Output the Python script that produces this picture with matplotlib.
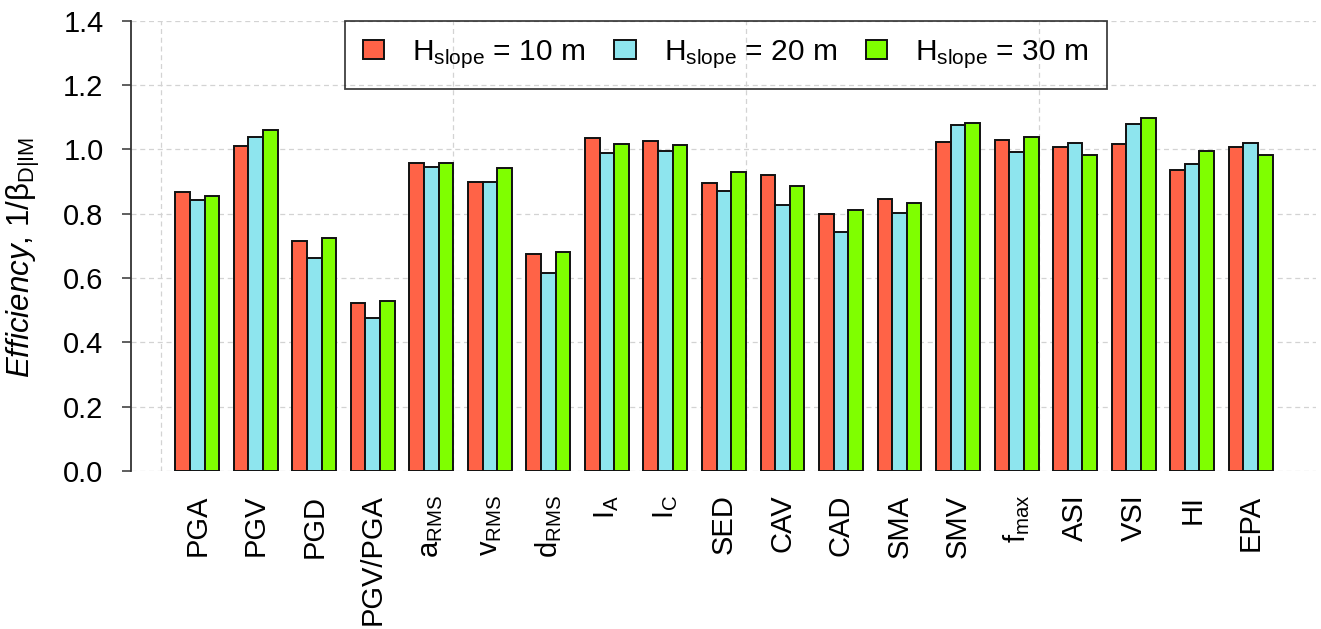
import numpy as np
import matplotlib
matplotlib.use("Agg")
import matplotlib.pyplot as plt

plt.rcParams['font.family'] = ['Liberation Sans', 'DejaVu Sans']
plt.rcParams['mathtext.fontset'] = 'custom'
plt.rcParams['mathtext.rm'] = 'Liberation Sans'
plt.rcParams['mathtext.it'] = 'Liberation Sans:italic'
plt.rcParams['mathtext.bf'] = 'Liberation Sans:bold'

# Intensity measures (x categories)
measures = ['PGA', 'PGV', 'PGD', 'PGV/PGA', r'a$_\mathregular{RMS}$', r'v$_\mathregular{RMS}$',
            r'd$_\mathregular{RMS}$', r'I$_\mathregular{A}$', r'I$_\mathregular{C}$', 'SED', 'CAV',
            'CAD', 'SMA', 'SMV', r'f$_\mathregular{max}$', 'ASI', 'VSI', 'HI', 'EPA']

# Efficiency 1/beta for each slope height
eff_10m = [0.866, 1.009, 0.715, 0.522, 0.959, 0.898, 0.675, 1.036, 1.027, 0.896,
           0.919, 0.798, 0.845, 1.023, 1.030, 1.008, 1.018, 0.936, 1.008]
eff_20m = [0.843, 1.038, 0.662, 0.477, 0.944, 0.897, 0.617, 0.988, 0.995, 0.871,
           0.827, 0.744, 0.801, 1.077, 0.991, 1.021, 1.078, 0.953, 1.021]
eff_30m = [0.854, 1.061, 0.723, 0.530, 0.957, 0.941, 0.681, 1.016, 1.014, 0.930,
           0.887, 0.812, 0.834, 1.083, 1.038, 0.981, 1.096, 0.995, 0.981]

series = [
    (eff_10m, r'H$_\mathregular{slope}$ = 10 m', '#FF6347'),
    (eff_20m, r'H$_\mathregular{slope}$ = 20 m', '#8EE5EE'),
    (eff_30m, r'H$_\mathregular{slope}$ = 30 m', '#7FFF00'),
]

W, H = 1321, 629
fig = plt.figure(figsize=(W / 100, H / 100), dpi=100)
fig.patch.set_facecolor('white')
ax = fig.add_axes([131.4 / W, 1 - 471 / H, (1316.5 - 131.4) / W, (471 - 20.7) / H])

# barplot layout: groups of 3 unit-wide bars separated by one unit
group_start = np.arange(len(measures)) * 4 + 1
bars = []
for k, (vals, label, color) in enumerate(series):
    b = ax.bar(group_start + k, vals, width=1.0, align='edge', color=color,
               edgecolor='#111111', linewidth=1.4, label=label, zorder=2)
    bars.append(b)

ax.set_xlim(-2, 79)
ax.set_ylim(0, 1.4)

yticks = np.arange(0, 1.41, 0.2)
ax.set_yticks(yticks)
ax.set_yticklabels([f'{v:.1f}' for v in yticks])
for y in yticks:
    ax.axhline(y, color='#D3D3D3', linestyle=(0, (4, 3)), linewidth=0.9, zorder=0)
for x in [0, 20, 40, 60]:
    ax.axvline(x, color='#D3D3D3', linestyle=(0, (4, 3)), linewidth=0.9, zorder=0)

ax.set_xticks(group_start + 1.5)
ax.set_xticklabels(measures, rotation=90, va='top', ha='center')
ax.tick_params(axis='x', length=0, pad=17, labelsize=21)
ax.tick_params(axis='y', direction='out', length=6.5, width=1.1, pad=13.5,
               labelsize=21, color='#333333')

for side in ['top', 'right', 'bottom']:
    ax.spines[side].set_visible(False)
ax.spines['left'].set_bounds(0, 1.4)
ax.spines['left'].set_linewidth(1.3)
ax.spines['left'].set_color('#333333')
ax.set_facecolor('none')

fig.text(23 / W, 1 - 257 / H, r'$\mathit{Efficiency}$, 1/β$_\mathregular{D|IM}$',
         rotation=90, ha='center', va='center', fontsize=22.5)

leg = ax.legend(handles=bars, loc='upper left', ncol=3,
                bbox_to_anchor=(344.7 / W, 1 - 20.5 / H), bbox_transform=fig.transFigure,
                borderaxespad=0, fontsize=21.5, frameon=True, fancybox=False,
                handlelength=0.72, handleheight=0.6, handletextpad=0.95,
                columnspacing=0.95, borderpad=0.6)
leg.get_frame().set_edgecolor('#111111')
leg.get_frame().set_facecolor('none')
leg.get_frame().set_linewidth(1.3)

fig.savefig('out.png', dpi=100, facecolor='white')
